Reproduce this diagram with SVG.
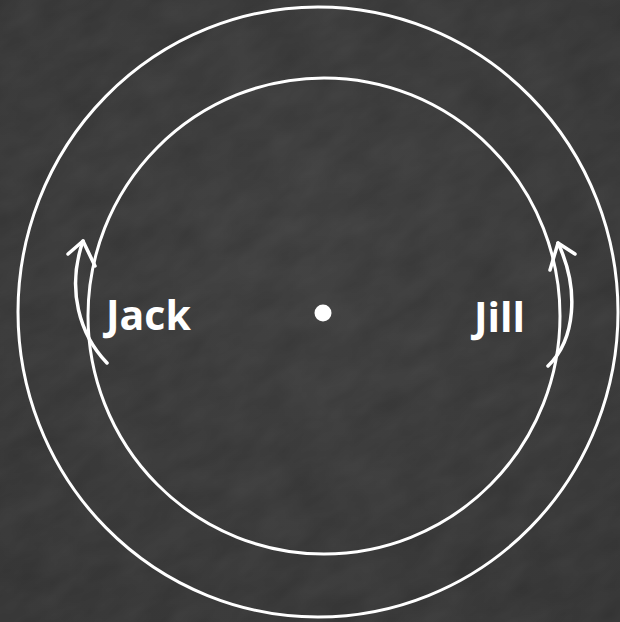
<svg xmlns="http://www.w3.org/2000/svg" width="620" height="622" viewBox="0 0 620 622">
  <defs>
    <style>
      .ring { fill: none; stroke: #ffffff; stroke-width: 3; }
      .arrow { fill: none; stroke: #ffffff; stroke-width: 3.5; stroke-linecap: round; stroke-linejoin: round; }
      .label { font-family: "Open Sans", "Noto Sans", "Liberation Sans", sans-serif; font-weight: 700; font-size: 41px; fill: #ffffff; }
    </style>
    <radialGradient id="bg" cx="0.5" cy="0.4" r="0.75">
      <stop offset="0" stop-color="#3a3a3a"/>
      <stop offset="1" stop-color="#313131"/>
    </radialGradient>
    <filter id="chalk" x="0" y="0" width="1" height="1">
      <feTurbulence type="fractalNoise" baseFrequency="0.02 0.04" numOctaves="3" seed="4" result="n"/>
      <feColorMatrix type="matrix" values="0 0 0 0 1  0 0 0 0 1  0 0 0 0 1  0 0 0 0.07 0" in="n"/>
    </filter>
  </defs>
  <rect width="620" height="622" fill="url(#bg)"/>
  <rect x="-300" y="-300" width="1220" height="1222" filter="url(#chalk)" transform="rotate(-30 310 311)"/>

  <g id="outer-circle">
    <ellipse class="ring" cx="318" cy="312" rx="300" ry="305"/>
  </g>
  <g id="inner-circle">
    <ellipse class="ring" cx="324" cy="316" rx="236" ry="238"/>
  </g>
  <g id="center">
    <circle cx="323" cy="313" r="8.5" fill="#ffffff"/>
  </g>
  <g id="jack">
    <text class="label" x="106" y="330">Jack</text>
  </g>
  <g id="jill">
    <text class="label" x="474" y="332">Jill</text>
  </g>
  <g id="connectors">
    <path class="arrow" d="M107,363 C80,335 66,290 83,241"/>
    <path class="arrow" d="M68,254 L83,241 L95,266"/>
    <path class="arrow" d="M548,366 C575,340 580,290 558,243"/>
    <path class="arrow" d="M550,270 L558,243 L575,254"/>
  </g>
</svg>
